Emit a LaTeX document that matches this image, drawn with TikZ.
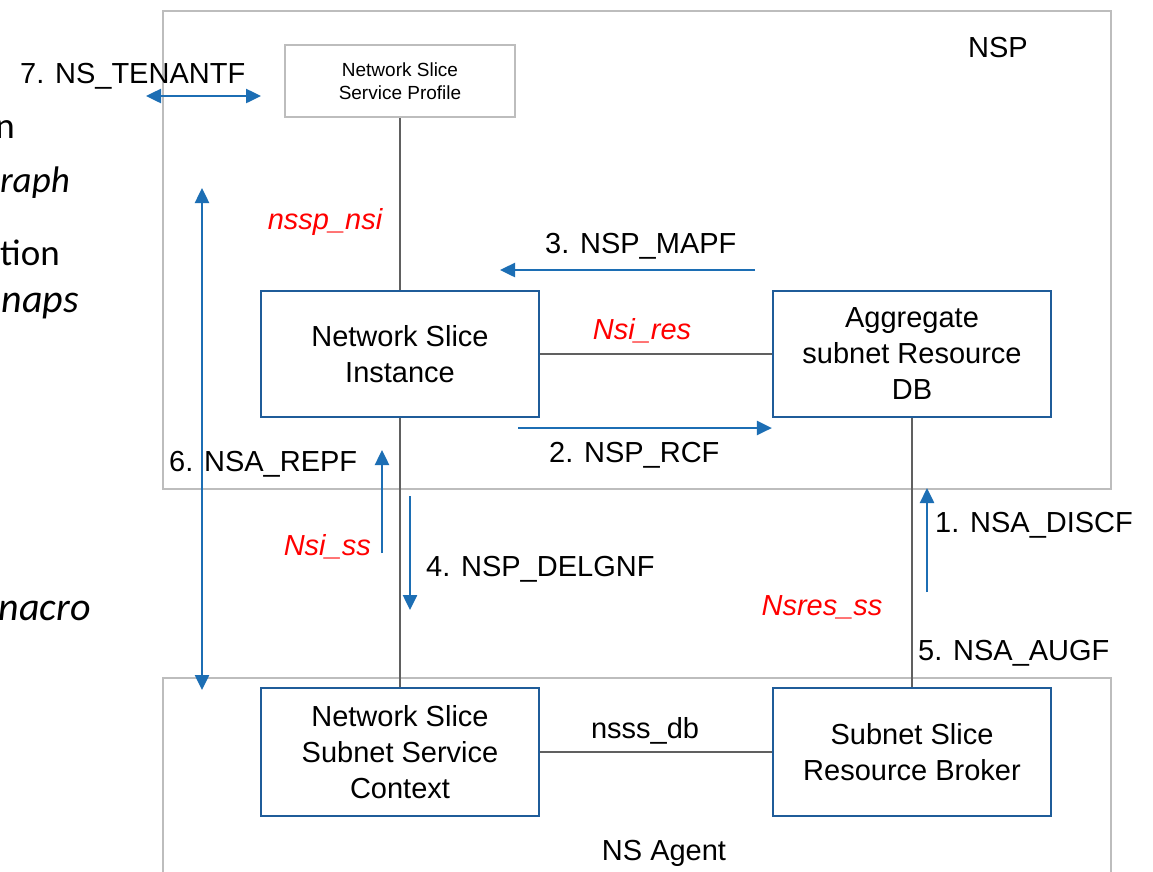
\documentclass[tikz,border=0pt]{standalone}
\usepackage{fontspec}
\setmainfont{Liberation Sans}
\newfontfamily\calib{Carlito}
\usetikzlibrary{arrows.meta}
\definecolor{boxblue}{HTML}{1F5C99}
\definecolor{arrblue}{HTML}{1C6EB4}
\definecolor{framegray}{HTML}{BDBDBD}
\definecolor{conngray}{HTML}{606060}
\definecolor{lblred}{HTML}{FF0000}
\begin{document}
\begin{tikzpicture}[x=1pt,y=-1pt,
  lbl/.style={inner sep=0pt, font=\fontsize{29}{36}\selectfont},
  redlbl/.style={lbl, text=lblred, font=\fontsize{29}{36}\selectfont\itshape},
  frag/.style={inner sep=0pt, font=\calib\fontsize{37}{44}\selectfont},
  blk/.style={draw=boxblue, line width=2.2pt, minimum width=278pt, minimum height=126pt,
    inner sep=0pt, align=center, font=\fontsize{29}{36}\selectfont},
  framebox/.style={draw=framegray, line width=2.5pt, inner sep=0pt, minimum width=948pt},
  conn/.style={draw=conngray, line width=2pt},
  flow/.style={draw=arrblue, line width=2.5pt, -{Triangle[length=15pt,width=14pt]}},
  flow2/.style={draw=arrblue, line width=2.5pt, {Triangle[length=15pt,width=14pt]}-{Triangle[length=15pt,width=14pt]}}
]
\useasboundingbox (0,0) rectangle (1153,871);
\fill[white] (0,0) rectangle (1153,871);

% left fragments of slide text
\node[frag, anchor=base east] (f1) at (15,138) {n};
\node[frag, anchor=base east] (f2) at (70,192) {\itshape raph};
\node[frag, anchor=base east] (f3) at (60,265) {tion};
\node[frag, anchor=base east, font=\calib\fontsize{40}{46}\selectfont] (f4) at (79,312) {\itshape naps};
\node[frag, anchor=base east, font=\calib\fontsize{40}{46}\selectfont] (f5) at (91,620) {\itshape nacro};

% frames
\node[framebox, minimum height=478pt] (nsp) at (637,250) {};
\node[framebox, minimum height=240pt] (nsa) at (637,798) {};
\node[lbl, anchor=base] (nsplbl) at (998,57) {NSP};
\node[lbl, anchor=base] (nsalbl) at (664,860) {NS Agent};

% boxes
\node[draw=framegray, line width=2pt, minimum width=230pt, minimum height=72pt, inner sep=0pt,
      align=center, font=\fontsize{19}{23}\selectfont] (prof) at (400,81) {Network Slice\\Service Profile};
\node[blk] (nsi) at (400,354) {Network Slice\\Instance};
\node[blk] (asdb) at (912,354) {Aggregate\\subnet Resource\\DB};
\node[blk, minimum height=128pt] (nsssc) at (400,752) {Network Slice\\Subnet Service\\Context};
\node[blk, minimum height=128pt] (ssrb) at (912,752) {Subnet Slice\\Resource Broker};

% plain connectors
\draw[conn] (prof.south) -- (nsi.north);
\draw[conn] (nsi.south) -- (nsssc.north);
\draw[conn] (asdb.south) -- (ssrb.north);
\draw[conn] (nsi.east) -- (asdb.west);
\draw[conn] (nsssc.east) -- (ssrb.west);

% connector labels
\node[redlbl, anchor=base] (l_nssp) at (325,229) {nssp\_nsi};
\node[redlbl, anchor=base] (l_nsires) at (642,339) {Nsi\_res};
\node[redlbl, anchor=base east] (l_nsiss) at (371,555) {Nsi\_ss};
\node[redlbl, anchor=base] (l_nsres) at (822,615) {Nsres\_ss};
\node[lbl, anchor=base] (l_nsss) at (645,738) {nsss\_db};

% flow arrows
\coordinate (a7s) at (146,96);  \coordinate (a7e) at (261,96);
\coordinate (aLs) at (202,188); \coordinate (aLe) at (202,690);
\coordinate (a3s) at (755,270); \coordinate (a3e) at (500,270);
\coordinate (a2s) at (518,428);
\coordinate (a6s) at (382,553); \coordinate (a6e) at (382,450);
\coordinate (a4s) at (410,496); \coordinate (a4e) at (410,610);
\coordinate (a1s) at (927,592); \coordinate (a1e) at (927,488);

\draw[flow2] (a7s) -- (a7e);
\draw[flow2] (aLs) -- (aLe);
\draw[flow] (a3s) -- (a3e);
\draw[flow] (a2s) -- (a2s -| asdb.west);
\draw[flow] (a6s) -- (a6e);
\draw[flow] (a4s) -- (a4e);
\draw[flow] (a1s) -- (a1e);

\node[lbl, anchor=base west] (t7) at (20,83) {7. NS\_TENANTF};
\node[lbl, anchor=base west] (t3) at (545,253) {3. NSP\_MAPF};
\node[lbl, anchor=base west] (t2) at (549,462) {2. NSP\_RCF};
\node[lbl, anchor=base west] (t6) at (169,471) {6. NSA\_REPF};
\node[lbl, anchor=base west] (t4) at (426,576) {4. NSP\_DELGNF};
\node[lbl, anchor=base west] (t1) at (935,532) {1. NSA\_DISCF};
\node[lbl, anchor=base west] (t5) at (918,660) {5. NSA\_AUGF};
\end{tikzpicture}
\end{document}
